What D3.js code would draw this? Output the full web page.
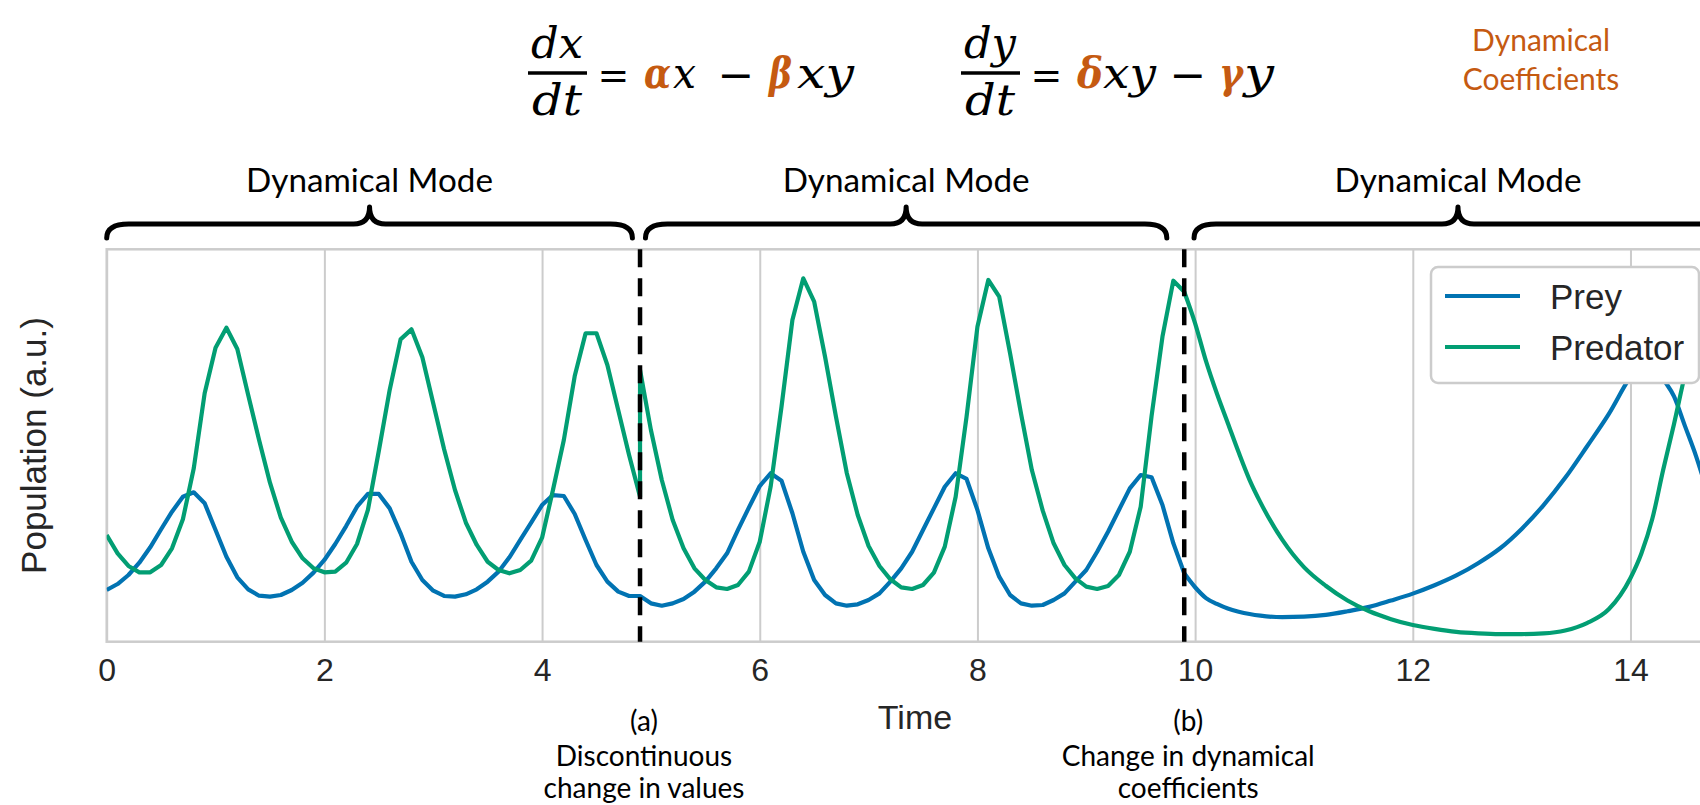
<!DOCTYPE html>
<html>
<head>
<meta charset="utf-8">
<script src="https://cdn.jsdelivr.net/npm/d3@7"></script>
<style>
  body { margin: 0; background: #fff; }
  svg { display: block; }
</style>
</head>
<body>
<div id="chart"></div>
<script>
// Lotka-Volterra trajectories (arbitrary units)
// Segment A: first dynamical mode, t = 0.0 .. 4.9
const timeA = [0.0, 0.1, 0.2, 0.3, 0.4, 0.5, 0.6, 0.7, 0.8, 0.9,
    1.0, 1.1, 1.2, 1.3, 1.4, 1.5, 1.6, 1.7, 1.8, 1.9,
    2.0, 2.1, 2.2, 2.3, 2.4, 2.5, 2.6, 2.7, 2.8, 2.9,
    3.0, 3.1, 3.2, 3.3, 3.4, 3.5, 3.6, 3.7, 3.8, 3.9,
    4.0, 4.1, 4.2, 4.3, 4.4, 4.5, 4.6, 4.7, 4.8, 4.9];
const preyA = [0.527, 0.588, 0.680, 0.805, 0.962, 1.146, 1.325, 1.478, 1.523, 1.411,
    1.139, 0.866, 0.656, 0.534, 0.469, 0.459, 0.476, 0.527, 0.601, 0.704,
    0.833, 0.996, 1.179, 1.376, 1.506, 1.506, 1.359, 1.105, 0.815, 0.629,
    0.520, 0.466, 0.459, 0.483, 0.534, 0.612, 0.714, 0.860, 1.037, 1.213,
    1.393, 1.495, 1.485, 1.302, 1.037, 0.782, 0.612, 0.510, 0.466, 0.466];
const predatorA = [1.088, 0.901, 0.772, 0.707, 0.707, 0.782, 0.952, 1.248, 1.768, 2.532,
    2.997, 3.201, 2.984, 2.515, 2.056, 1.621, 1.264, 1.019, 0.850, 0.748,
    0.707, 0.714, 0.805, 0.996, 1.343, 1.944, 2.566, 3.082, 3.184, 2.899,
    2.430, 1.961, 1.546, 1.213, 0.986, 0.815, 0.731, 0.697, 0.731, 0.826,
    1.060, 1.546, 2.056, 2.708, 3.144, 3.144, 2.821, 2.360, 1.900, 1.478];

// Segment B: after the discontinuous jump, t = 4.9 .. 9.9
const timeB = [4.9, 5.0, 5.1, 5.2, 5.3, 5.4, 5.5, 5.6, 5.7, 5.8, 5.9,
    6.0, 6.1, 6.2, 6.3, 6.4, 6.5, 6.6, 6.7, 6.8, 6.9,
    7.0, 7.1, 7.2, 7.3, 7.4, 7.5, 7.6, 7.7, 7.8, 7.9,
    8.0, 8.1, 8.2, 8.3, 8.4, 8.5, 8.6, 8.7, 8.8, 8.9,
    9.0, 9.1, 9.2, 9.3, 9.4, 9.5, 9.6, 9.7, 9.8, 9.9];
const preyB = [0.466, 0.391, 0.367, 0.391, 0.435, 0.510, 0.612, 0.748, 0.901, 1.139, 1.366,
    1.587, 1.717, 1.641, 1.309, 0.917, 0.629, 0.476, 0.391, 0.367, 0.381,
    0.425, 0.493, 0.612, 0.748, 0.917, 1.139, 1.359, 1.580, 1.717, 1.659,
    1.343, 0.952, 0.663, 0.476, 0.391, 0.367, 0.374, 0.425, 0.493, 0.612,
    0.731, 0.917, 1.121, 1.343, 1.563, 1.699, 1.676, 1.393, 1.003, 0.697];
const predatorB = [2.770, 2.158, 1.648, 1.241, 0.952, 0.748, 0.629, 0.554, 0.537, 0.578, 0.714,
    1.019, 1.580, 2.396, 3.279, 3.704, 3.466, 2.905, 2.294, 1.717, 1.292,
    0.976, 0.772, 0.636, 0.554, 0.537, 0.578, 0.704, 0.969, 1.478, 2.294,
    3.211, 3.687, 3.517, 2.940, 2.328, 1.750, 1.336, 1.003, 0.782, 0.646,
    0.561, 0.537, 0.568, 0.680, 0.917, 1.376, 2.300, 3.109, 3.680, 3.568];

// Segment C: changed coefficients, t = 9.9 .. 14.85
const timeC = [9.9, 10.0, 10.1, 10.2, 10.3, 10.4, 10.5, 10.6, 10.8, 11.0,
    11.2, 11.4, 11.6, 11.8, 12.0, 12.2, 12.4, 12.6, 12.8, 13.0,
    13.2, 13.4, 13.6, 13.8, 14.0, 14.1, 14.2, 14.3, 14.4, 14.5,
    14.6, 14.7, 14.85];
const preyC = [0.697, 0.555, 0.445, 0.385, 0.338, 0.306, 0.282, 0.265, 0.250, 0.255,
    0.273, 0.310, 0.355, 0.420, 0.490, 0.575, 0.675, 0.800, 0.950, 1.150,
    1.390, 1.670, 1.990, 2.320, 2.700, 2.840, 2.860, 2.680, 2.500, 2.200,
    1.900, 1.550, 1.050];
const predatorC = [3.568, 3.246, 2.860, 2.530, 2.230, 1.930, 1.650, 1.420, 1.040, 0.760,
    0.570, 0.420, 0.310, 0.230, 0.170, 0.130, 0.100, 0.085, 0.078, 0.078,
    0.085, 0.115, 0.190, 0.330, 0.650, 0.900, 1.250, 1.750, 2.220, 2.720,
    3.150, 3.450, 3.550];

const xTicks = [0, 2, 4, 6, 8, 10, 12, 14];
const changePoints = [4.9, 9.9];
const changeLabels = [
    ["(a)", "Discontinuous", "change in values"],
    ["(b)", "Change in dynamical", "coefficients"]
];
const modeSpans = [[0, 4.83], [4.95, 9.74], [9.99, 14.84]];
const modeLabel = "Dynamical Mode";
const seriesNames = ["Prey", "Predator"];
const seriesColors = ["#0173b2", "#029e73"];

const width = 1700;
const height = 805;
const plot = { left: 106.7, right: 1723, top: 249.3, bottom: 641.7 };
const orange = "#c55a11";
const sansFont = "'Liberation Sans', Arial, sans-serif";
const noteFont = "Lato, 'Open Sans', sans-serif";
const mathFont = "'DejaVu Serif', 'Liberation Serif', serif";

const svg = d3.select("#chart").append("svg")
    .attr("width", width)
    .attr("height", height);

const x = d3.scaleLinear().domain([0, 14.85]).range([plot.left, plot.right]);
const y = d3.scaleLinear().domain([0, 4]).range([plot.bottom, plot.top]);

svg.append("defs").append("clipPath")
    .attr("id", "plot-clip")
    .append("rect")
    .attr("x", plot.left)
    .attr("y", plot.top)
    .attr("width", plot.right - plot.left)
    .attr("height", plot.bottom - plot.top);

// Grid + tick labels
const xAxis = svg.append("g")
    .attr("class", "x-axis")
    .attr("transform", `translate(0, ${plot.bottom})`)
    .call(d3.axisBottom(x)
        .tickValues(xTicks)
        .tickSize(-(plot.bottom - plot.top))
        .tickPadding(17));
xAxis.select(".domain").remove();
xAxis.selectAll(".tick line")
    .attr("stroke", "#cccccc")
    .attr("stroke-width", 2);
xAxis.selectAll(".tick text")
    .attr("fill", "#262626")
    .style("font-family", sansFont)
    .style("font-size", "32px");

// Frame
svg.append("rect")
    .attr("x", plot.left)
    .attr("y", plot.top)
    .attr("width", plot.right - plot.left)
    .attr("height", plot.bottom - plot.top)
    .attr("fill", "none")
    .attr("stroke", "#cccccc")
    .attr("stroke-width", 2.5);

// Curves
const toPoints = (ts, vs) => ts.map((t, i) => ({ t: t, v: vs[i] }));
const lineAB = d3.line().x(d => x(d.t)).y(d => y(d.v));
const lineC = d3.line().x(d => x(d.t)).y(d => y(d.v)).curve(d3.curveMonotoneX);

const series = [
    { ab: toPoints(timeA, preyA).concat(toPoints(timeB, preyB)), c: toPoints(timeC, preyC) },
    { ab: toPoints(timeA, predatorA).concat(toPoints(timeB, predatorB)), c: toPoints(timeC, predatorC) }
];

const curves = svg.append("g").attr("clip-path", "url(#plot-clip)");
series.forEach((s, i) => {
    curves.append("path")
        .attr("d", lineAB(s.ab))
        .attr("fill", "none")
        .attr("stroke", seriesColors[i])
        .attr("stroke-width", 4.2)
        .attr("stroke-linejoin", "round");
    curves.append("path")
        .attr("d", lineC(s.c))
        .attr("fill", "none")
        .attr("stroke", seriesColors[i])
        .attr("stroke-width", 4.2)
        .attr("stroke-linejoin", "round");
});

// Dashed change markers
svg.selectAll(".change-line")
    .data(changePoints)
    .enter().append("line")
    .attr("class", "change-line")
    .attr("x1", d => x(d))
    .attr("x2", d => x(d))
    .attr("y1", plot.top)
    .attr("y2", plot.bottom)
    .attr("stroke", "#000")
    .attr("stroke-width", 4.5)
    .attr("stroke-dasharray", "18,11");

// Legend
const legend = svg.append("g").attr("class", "legend");
legend.append("rect")
    .attr("x", 1431).attr("y", 267)
    .attr("width", 268).attr("height", 116)
    .attr("rx", 7)
    .attr("fill", "#fff")
    .attr("stroke", "#cccccc").attr("stroke-width", 2.5);
seriesNames.forEach((name, i) => {
    const ly = 296 + i * 51;
    legend.append("line")
        .attr("x1", 1445).attr("x2", 1520)
        .attr("y1", ly).attr("y2", ly)
        .attr("stroke", seriesColors[i])
        .attr("stroke-width", 4.2);
    legend.append("text")
        .attr("x", 1550).attr("y", ly + 12.5)
        .attr("fill", "#262626")
        .style("font-family", sansFont)
        .style("font-size", "35px")
        .text(name);
});

// Axis labels
svg.append("text")
    .attr("x", 915).attr("y", 729)
    .attr("text-anchor", "middle")
    .attr("fill", "#262626")
    .style("font-family", sansFont)
    .style("font-size", "34px")
    .text("Time");

svg.append("text")
    .attr("transform", `translate(46, ${(plot.top + plot.bottom) / 2}) rotate(-90)`)
    .attr("text-anchor", "middle")
    .attr("fill", "#262626")
    .style("font-family", sansFont)
    .style("font-size", "35px")
    .text("Population (a.u.)");

// Braces for the dynamical modes
function bracePath(x0, x1, yl, yb, yt) {
    const xc = (x0 + x1) / 2, r = 22, rc = 16;
    return `M${x0},${yb} Q${x0},${yl} ${x0 + r},${yl} L${xc - rc},${yl} ` +
        `Q${xc},${yl} ${xc},${yt} Q${xc},${yl} ${xc + rc},${yl} ` +
        `L${x1 - r},${yl} Q${x1},${yl} ${x1},${yb}`;
}

modeSpans.forEach(span => {
    const x0 = x(span[0]), x1 = x(span[1]);
    svg.append("path")
        .attr("d", bracePath(x0, x1, 224, 238, 207))
        .attr("fill", "none")
        .attr("stroke", "#000")
        .attr("stroke-width", 5)
        .attr("stroke-linecap", "round")
        .attr("stroke-linejoin", "round");
    svg.append("text")
        .attr("x", (x0 + x1) / 2).attr("y", 192)
        .attr("text-anchor", "middle")
        .attr("textLength", 247)
        .attr("lengthAdjust", "spacingAndGlyphs")
        .attr("fill", "#000")
        .style("font-family", noteFont)
        .style("font-size", "32px")
        .text(modeLabel);
});

// Notes under the change markers
changePoints.forEach((cp, i) => {
    const lines = changeLabels[i];
    lines.forEach((txt, j) => {
        svg.append("text")
            .attr("x", x(cp) + 4)
            .attr("y", 731 + j * 32 + (j > 0 ? 3 : 0))
            .attr("text-anchor", "middle")
            .attr("fill", "#000")
            .style("font-family", noteFont)
            .style("font-size", "28px")
            .text(txt);
    });
});

// Equations
function fraction(cx, num, den) {
    const g = svg.append("g").attr("class", "fraction");
    g.append("text")
        .attr("x", cx).attr("y", 58)
        .attr("text-anchor", "middle")
        .attr("textLength", 52).attr("lengthAdjust", "spacingAndGlyphs")
        .style("font-family", mathFont).style("font-style", "italic")
        .style("font-size", "42px")
        .text(num);
    g.append("line")
        .attr("x1", cx - 29).attr("x2", cx + 30)
        .attr("y1", 73).attr("y2", 73)
        .attr("stroke", "#000").attr("stroke-width", 3.5);
    g.append("text")
        .attr("x", cx).attr("y", 115)
        .attr("text-anchor", "middle")
        .attr("textLength", 50).attr("lengthAdjust", "spacingAndGlyphs")
        .style("font-family", mathFont).style("font-style", "italic")
        .style("font-size", "42px")
        .text(den);
}

function eqToken(xPos, txt, w, coef) {
    const t = svg.append("text")
        .attr("x", xPos).attr("y", 88)
        .attr("fill", coef ? orange : "#000")
        .text(txt);
    if (txt === "=" || txt === "−") {
        // operators drawn upright, centred on their slot
        t.attr("x", xPos + w / 2)
            .attr("y", txt === "−" ? 90 : 88)
            .attr("text-anchor", "middle")
            .style("font-family", "'DejaVu Sans', sans-serif")
            .style("font-size", txt === "−" ? "44px" : "38px");
    } else {
        t.attr("textLength", w).attr("lengthAdjust", "spacingAndGlyphs")
            .style("font-family", mathFont)
            .style("font-style", "italic")
            .style("font-weight", coef ? "bold" : "normal")
            .style("font-size", "42px");
    }
}

fraction(557, "dx", "dt");
[[598, "=", 31], [644, "α", 27, true], [673, "x", 23], [722, "−", 28], [769, "β", 23, true], [797, "xy", 57]]
    .forEach(d => eqToken(d[0], d[1], d[2], d[3]));

fraction(990, "dy", "dt");
[[1031, "=", 31], [1077, "δ", 26, true], [1103, "xy", 53], [1174, "−", 28], [1219, "γ", 24, true], [1244, "y", 30]]
    .forEach(d => eqToken(d[0], d[1], d[2], d[3]));

// Coefficient note
["Dynamical", "Coefficients"].forEach((txt, i) => {
    svg.append("text")
        .attr("x", 1541).attr("y", 51 + i * 39)
        .attr("text-anchor", "middle")
        .attr("fill", orange)
        .style("font-family", noteFont)
        .style("font-size", "30px")
        .text(txt);
});
</script>
</body>
</html>
